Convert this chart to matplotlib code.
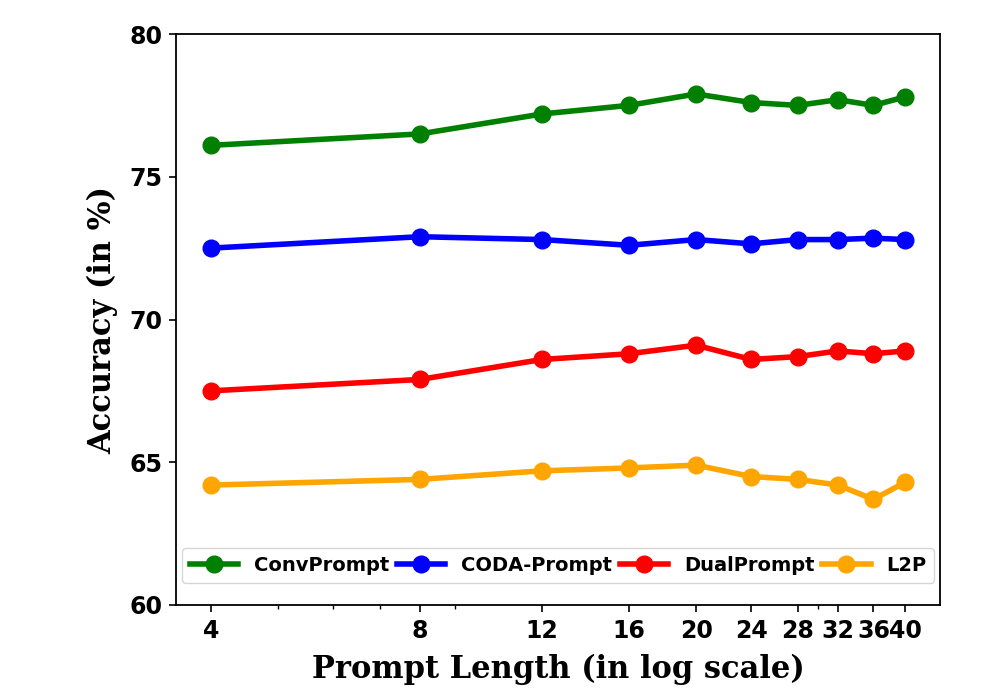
import numpy as np
import matplotlib
matplotlib.use('Agg')
import matplotlib.pyplot as plt
from matplotlib.ticker import NullFormatter

prompt_len = [4, 8, 12, 16, 20, 24, 28, 32, 36, 40]
tick_labels = ['4', '8', '12', '16', '20', '24', '28', '32', '36', '40']

conv_prompt = [76.1, 76.5, 77.2, 77.5, 77.9, 77.6, 77.5, 77.7, 77.5, 77.8]
coda_prompt = [72.5, 72.9, 72.8, 72.6, 72.8, 72.65, 72.8, 72.8, 72.85, 72.8]
dual_prompt = [67.5, 67.9, 68.6, 68.8, 69.1, 68.6, 68.7, 68.9, 68.8, 68.9]
l2p = [64.2, 64.4, 64.7, 64.8, 64.9, 64.5, 64.4, 64.2, 63.7, 64.3]

series = [
    ('ConvPrompt', conv_prompt, 'green'),
    ('CODA-Prompt', coda_prompt, 'blue'),
    ('DualPrompt', dual_prompt, 'red'),
    ('L2P', l2p, 'orange'),
]

fig = plt.figure(figsize=(9.86, 6.9), dpi=100)
ax = fig.add_axes([0.1785, 0.1232, 0.7748, 0.8275])

for name, vals, c in series:
    ax.plot(prompt_len, vals, marker='o', color=c, linewidth=4, markersize=12, label=name)

ax.set_xscale('log')
ax.set_xticks(prompt_len)
ax.set_xticklabels(tick_labels)
ax.xaxis.set_minor_formatter(NullFormatter())
ax.set_ylim(60, 80)
ax.set_yticks([60, 65, 70, 75, 80])
ax.tick_params(axis='both', which='major', length=5, width=1.2, pad=5)
ax.tick_params(axis='x', which='minor', length=3, width=1.0)

for lab in ax.get_xticklabels() + ax.get_yticklabels():
    lab.set_fontweight('bold')
    lab.set_fontsize(17)

for sp in ax.spines.values():
    sp.set_linewidth(1.3)

ax.set_xlabel('Prompt Length (in log scale)', family='DejaVu Serif', fontweight='bold',
              fontsize=22, labelpad=8)
ax.set_ylabel('Accuracy (in %)', family='DejaVu Serif', fontweight='bold',
              fontsize=22, labelpad=8)

ax.legend(loc='lower center', ncol=4, prop={'weight': 'bold', 'size': 14},
          handlelength=2.5, handletextpad=0.8, columnspacing=0.4, borderpad=0.4,
          borderaxespad=0, bbox_to_anchor=(0.5, 0.0385))

plt.savefig('out.png', dpi=100)
plt.close()
